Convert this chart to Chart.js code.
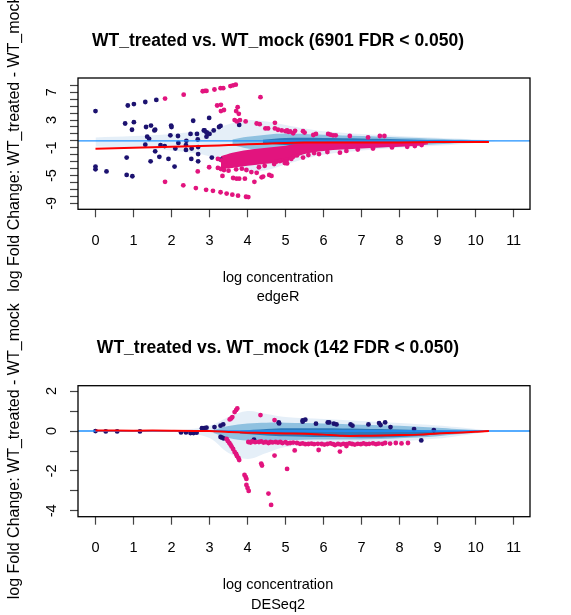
<!DOCTYPE html>
<html>
<head>
<meta charset="utf-8">
<script src="https://cdn.jsdelivr.net/npm/chart.js@4.4.1/dist/chart.umd.min.js"></script>
<style>
  html, body { margin: 0; padding: 0; background: #fff; }
  #wrap { position: relative; width: 571px; height: 615px; overflow: hidden; }
  canvas { position: absolute; left: 0; }
</style>
</head>
<body>
<div id="wrap">
  <canvas id="edgerChart" width="571" height="310" style="top:0"></canvas>
  <canvas id="deseqChart" width="571" height="320" style="top:295px"></canvas>
</div>
<script>
// ---- shared axis ----
const X_MIN = -0.46, X_MAX = 11.43;
const xTicksShown = [0, 1, 2, 3, 4, 5, 6, 7, 8, 9, 10, 11];

// ---- edgeR panel ----
const edgerTitle = 'WT_treated vs. WT_mock (6901 FDR < 0.050)';
const edgerYLabels = [7, 3, -1, -5, -9];
const edgerYTickTop = 8;
const edgerYMin = -9.86, edgerYMax = 9.06;

// outlier points drawn by smoothScatter (dark blue)
const edgerNavyX = [0, 0.85, 1.01, 1.31, 1.6, 0.78, 1.01, 0.96, 1.33, 1.46, 1.57, 1.55, 1.99, 2.0, 2.57, 2.5, 2.67, 2.85, 2.92,
  1.97, 2.17, 1.36, 1.41, 2.18, 2.39, 2.69, 2.92, 1.31, 1.71, 1.82, 2.1, 2.38, 2.38, 2.53, 2.7, 1.57,
  0.82, 1.45, 1.68, 1.92, 2.08, 2.52, 2.7, 2.7, 0, 0, 0.29, 0.82, 0.97,
  2.99, 2.87, 2.93, 3.0, 3.11, 3.25, 3.29, 3.78, 3.06, 3.29];
const edgerNavyY = [4.3, 5.1, 5.3, 5.6, 5.9, 2.5, 2.7, 1.6, 2.0, 2.2, 1.6, 1.5, 2.2, 2.0, 2.9, 1.0, 1.0, 1.5, 1.2,
  0.8, 0.7, 0.6, 0.3, -0.3, 0.0, 0.2, 0.6, -0.55, -0.6, -0.75, -1.1, -0.6, -1.3, -1.1, -0.9, -1.5,
  -2.4, -2.95, -2.3, -2.6, -3.7, -2.6, -1.9, -2.95, -3.7, -4.1, -4.4, -4.9, -5.1,
  3.3, 1.5, 1.2, 1.0, 1.5, 2.0, 2.15, 2.3, -2.4, -2.7];

// significant sites (pink), scattered ones
const edgerSigX = [1.83, 2.32, 2.82, 2.88, 2.92, 3.13, 3.29, 3.36, 3.55, 3.62, 3.69, 4.34,
  3.2, 3.3, 3.3, 3.38, 3.74, 3.7, 3.77, 3.66, 3.72, 3.8, 3.95, 4.24, 4.32, 4.47, 4.54, 4.72, 4.72, 4.8, 4.9, 5.0, 5.07,
  5.04, 5.12, 5.2, 5.25, 5.46, 5.5, 5.73, 5.8, 6.12, 6.18, 6.25, 6.32, 6.69, 7.17, 7.48, 7.6,
  2.69, 1.83, 2.31, 2.64, 2.91, 3.09, 3.29, 3.45, 3.6, 3.75, 3.96, 4.02,
  2.99, 3.22, 3.3, 3.38, 3.22, 3.32, 3.4, 3.34, 3.62, 3.71, 3.78, 3.93, 4.18, 4.37, 4.41, 4.57, 4.63,
  3.97, 4.1, 4.24, 4.76, 4.9, 5.03, 4.99, 4.98, 5.04, 5.2, 5.46, 5.88, 6.43, 8.58, 4.85,
  3.5, 3.7, 3.85, 4.3, 4.45, 4.7, 5.15, 5.3, 5.6, 5.75, 6.1, 6.6, 6.9, 7.3, 7.8, 8.2, 8.4];
const edgerSigY = [6.1, 6.65, 7.15, 7.2, 7.2, 7.4, 7.6, 7.6, 7.9, 8.0, 8.1, 6.3,
  5.1, 5.2, 4.3, 4.45, 4.85, 4.3, 3.9, 3.0, 2.8, 3.0, 2.8, 2.5, 2.4, 1.8, 1.8, 2.6, 1.8, 1.6, 1.5, 1.4, 1.3,
  1.5, 1.35, 1.1, 1.45, 1.4, 1.2, 0.85, 1.0, 1.0, 0.9, 0.8, 0.8, 0.7, 0.5, 0.7, 0.7,
  -4.4, -5.9, -6.4, -6.8, -7.05, -7.2, -7.4, -7.6, -7.75, -7.9, -8.05, -8.1,
  -3.8, -3.9, -4.05, -4.2, -2.6, -2.8, -3.0, -5.05, -5.35, -5.45, -5.45, -5.45, -5.9, -5.25, -5.15, -4.9, -5.05,
  -4.2, -4.5, -4.6, -3.0, -2.8, -2.75, -2.95, -3.2, -3.25, -2.3, -2.4, -1.9, -1.7, -0.6, -2.9,
  -4.3, -4.1, -4.0, -3.8, -3.6, -3.35, -2.6, -2.1, -2.05, -1.75, -1.6, -1.45, -1.25, -1.1, -0.95, -0.85, -0.75];

// dense cloud of significant sites (upper / lower edge)
const edgerMassX = [3.3, 3.6, 4, 4.5, 5, 5.5, 6, 6.5, 7, 7.5, 8, 8.5, 8.75];
const edgerMassHi = [-2.2, -1.7, -1.3, -1.0, -0.7, -0.25, -0.15, -0.12, -0.12, -0.12, -0.15, -0.22, -0.35];
const edgerMassLo = [-4.0, -3.9, -3.6, -3.3, -2.9, -1.9, -1.45, -1.25, -1.1, -0.95, -0.85, -0.7, -0.5];

// smoothScatter density levels
const edgerHazeX = [0, 1, 2, 3, 3.5, 4, 4.5, 5, 5.5, 6, 7, 8, 9, 10, 10.6];
const edgerHazeHi = [0.5, 0.7, 1.0, 1.6, 2.4, 3.0, 2.8, 2.3, 1.8, 1.4, 1.0, 0.7, 0.45, 0.2, 0];
const edgerHazeLo = [-0.8, -1.0, -1.4, -2.2, -3.4, -4.4, -4.2, -3.4, -2.6, -2.0, -1.4, -1.0, -0.7, -0.3, 0];
const edgerMidX = [3.6, 4, 4.5, 5, 5.5, 6, 7, 8, 9, 9.6, 10.4];
const edgerMidHi = [0.2, 0.6, 0.9, 1.05, 1.0, 0.9, 0.7, 0.5, 0.32, 0.18, 0];
const edgerMidLo = [-0.6, -1.1, -1.4, -1.5, -1.4, -1.2, -1.0, -0.8, -0.5, -0.3, 0];
const edgerCoreX = [4.4, 5, 6, 7, 8, 9, 9.8];
const edgerCoreHi = [0.15, 0.4, 0.42, 0.35, 0.25, 0.12, 0];
const edgerCoreLo = [-0.3, -0.6, -0.65, -0.55, -0.42, -0.28, 0];

// loess fit (red)
const edgerFitX = [0, 1, 2, 3, 3.5, 4, 4.5, 5, 5.5, 6, 7, 8, 9, 10, 10.35];
const edgerFitY = [-1.15, -1.0, -0.85, -0.7, -0.6, -0.5, -0.4, -0.3, -0.25, -0.25, -0.25, -0.22, -0.18, -0.15, -0.15];

// ---- DESeq2 panel ----
const deseqTitle = 'WT_treated vs. WT_mock (142 FDR < 0.050)';
const deseqYLabels = [2, 0, -2, -4];
const deseqYTickTop = 2;
const deseqYMin = -4.29, deseqYMax = 2.27;

const deseqNavyX = [0, 0.27, 0.57, 1.17, 2.25, 2.38, 2.5, 2.58, 2.66, 2.8, 2.86, 2.92, 3.13, 3.29, 3.36, 3.29, 3.33, 3.37,
  4.17, 4.82, 4.83, 5.45, 5.52, 5.45, 5.8, 6.11, 6.15, 6.27, 6.34, 6.71, 6.76, 7.18, 7.46, 7.5, 7.62, 7.76, 8.38, 8.57, 8.9];
const deseqNavyY = [0, -0.02, -0.02, -0.02, -0.07, -0.07, -0.1, -0.1, -0.08, 0.14, 0.15, 0.17, 0.2, 0.27, 0.33, -0.3, -0.33, -0.37,
  -0.43, 0.43, 0.38, 0.53, 0.57, 0.47, 0.37, 0.43, 0.43, 0.37, 0.33, 0.33, 0.27, 0.33, 0.4, 0.3, 0.43, 0.2, 0.1, -0.47, 0.05];

const deseqSigX = [3.53, 3.57, 3.6, 3.66, 3.7, 3.73, 4.34, 4.71,
  3.45, 3.48, 3.52, 3.55, 3.58, 3.62, 3.66, 3.7, 3.72, 3.76, 3.78,
  3.92, 3.95, 3.97, 3.97, 4.0, 4.03, 4.36, 4.38, 4.55, 4.62, 4.71, 5.04, 5.24, 5.87, 6.43, 6.6,
  4.02, 4.08, 4.12, 4.2, 4.3, 4.36, 4.42, 4.48, 4.55, 4.6, 4.66, 4.74, 4.8, 4.86, 4.92, 5.0, 5.05, 5.12, 5.2, 5.3,
  5.38, 5.45, 5.52, 5.6, 5.68, 5.75, 5.85, 5.95, 6.02, 6.1, 6.18, 6.25, 6.3, 6.38, 6.45, 6.52, 6.6, 6.68, 6.75,
  6.82, 6.9, 6.98, 7.05, 7.12, 7.2, 7.3, 7.38, 7.45, 7.55, 7.62, 7.75, 7.9, 8.05, 8.22];
const deseqSigY = [0.58, 0.63, 0.7, 0.95, 1.05, 1.13, 0.8, 0.55,
  -0.4, -0.5, -0.6, -0.68, -0.78, -0.9, -1.05, -1.15, -1.25, -1.35, -1.45,
  -2.2, -2.3, -2.4, -2.7, -2.85, -3.0, -1.63, -1.73, -3.13, -3.7, -1.23, -1.9, -0.97, -0.95, -1.03, -0.75,
  -0.55, -0.58, -0.52, -0.56, -0.55, -0.52, -0.58, -0.55, -0.6, -0.55, -0.57, -0.55, -0.58, -0.55, -0.6, -0.56, -0.62, -0.6, -0.58, -0.6,
  -0.64, -0.62, -0.66, -0.65, -0.63, -0.66, -0.64, -0.65, -0.68, -0.65, -0.62, -0.66, -0.7, -0.65, -0.68, -0.64, -0.66, -0.62, -0.65,
  -0.68, -0.64, -0.66, -0.62, -0.66, -0.64, -0.62, -0.66, -0.63, -0.64, -0.6, -0.63, -0.6, -0.62, -0.6];

const deseqHazeX = [2.3, 3, 3.5, 4, 4.5, 5, 6, 7, 8, 9, 9.5, 10, 10.4];
const deseqHazeHi = [0.05, 0.25, 0.7, 1.0, 0.85, 0.7, 0.6, 0.5, 0.4, 0.28, 0.2, 0.1, 0];
const deseqHazeLo = [-0.05, -0.35, -1.1, -1.4, -1.1, -0.8, -0.65, -0.6, -0.52, -0.38, -0.26, -0.12, 0];
const deseqMidX = [3.1, 3.5, 4, 4.5, 5, 6, 7, 8, 9, 9.5, 10, 10.35];
const deseqMidHi = [0.05, 0.25, 0.38, 0.42, 0.42, 0.38, 0.32, 0.26, 0.16, 0.1, 0.05, 0];
const deseqMidLo = [-0.1, -0.35, -0.48, -0.48, -0.45, -0.42, -0.42, -0.36, -0.26, -0.16, -0.08, 0];
const deseqCoreX = [3.8, 4.5, 5, 6, 7, 8, 9, 9.7];
const deseqCoreHi = [0.02, 0.1, 0.14, 0.14, 0.12, 0.08, 0.03, 0];
const deseqCoreLo = [-0.12, -0.22, -0.26, -0.3, -0.32, -0.3, -0.16, 0];

const deseqFitX = [0, 1, 2, 3, 3.5, 4, 4.5, 5, 5.5, 6, 6.5, 7, 7.5, 8, 8.5, 9, 9.5, 10, 10.35];
const deseqFitY = [0.03, 0.02, 0.02, 0.0, -0.05, -0.08, -0.1, -0.12, -0.13, -0.18, -0.24, -0.24, -0.22, -0.2, -0.18, -0.12, -0.08, -0.04, 0];

const yAxisTitle = 'log Fold Change: WT_treated - WT_mock';
const xAxisTitle = 'log concentration';

// ---- drawing ----
const FONT = '"Liberation Sans", Arial, Helvetica, sans-serif';
Chart.defaults.font.family = FONT;
Chart.defaults.color = '#000';

const PINK = '#e2147e';
const NAVY = '#1c1270';

function xy(xs, ys) {
  return xs.map((x, i) => ({ x: x, y: ys[i] }));
}

function band(xs, hi, lo, color, order) {
  return [
    { data: xy(xs, hi), fill: '+1', backgroundColor: color, borderColor: 'transparent', borderWidth: 0, pointRadius: 0, tension: 0.35, order: order },
    { data: xy(xs, lo), fill: false, borderColor: 'transparent', borderWidth: 0, pointRadius: 0, tension: 0.35, order: order }
  ];
}

function dots(xs, ys, color, order) {
  return { data: xy(xs, ys), showLine: false, pointRadius: 2.4, pointBackgroundColor: color, pointBorderWidth: 0, order: order };
}

function curve(xs, ys, color, width, order) {
  return { data: xy(xs, ys), borderColor: color, borderWidth: width, pointRadius: 0, fill: false, tension: 0.3, order: order };
}

// box, titles and axis labels in R base-graphics style
const rText = {
  id: 'rText',
  afterDraw(chart, args, o) {
    const { ctx, chartArea: a } = chart;
    ctx.save();
    ctx.strokeStyle = '#000';
    ctx.lineWidth = 1.3;
    ctx.strokeRect(a.left, a.top, a.right - a.left, a.bottom - a.top);
    ctx.fillStyle = '#000';
    ctx.textAlign = 'center';
    ctx.textBaseline = 'alphabetic';
    ctx.font = 'bold 17.5px ' + FONT;
    ctx.fillText(o.title, 278, a.top - 32.5);
    ctx.font = '14.5px ' + FONT;
    ctx.textBaseline = 'middle';
    ctx.fillText(xAxisTitle, 278, a.bottom + 68.5);
    ctx.fillText(o.method, 278, a.bottom + 88);
    ctx.translate(18.5, (a.top + a.bottom) / 2);
    ctx.rotate(-Math.PI / 2);
    ctx.font = '16px ' + FONT;
    ctx.textBaseline = 'alphabetic';
    ctx.fillText(yAxisTitle, 0, 0);
    ctx.restore();
  }
};

function makeChart(id, p) {
  const datasets = [
    curve([X_MIN, X_MAX], [0, 0], '#1e90ff', 1.4, 1),
    curve(p.fitX, p.fitY, '#ff0000', 2, 0),
    dots(p.sigX, p.sigY, PINK, 2),
    dots(p.navyX, p.navyY, NAVY, 2)
  ];
  if (p.mass) datasets.push(...band(p.mass[0], p.mass[1], p.mass[2], PINK, 3));
  datasets.push(...band(p.core[0], p.core[1], p.core[2], 'rgba(33,113,181,0.9)', 4));
  datasets.push(...band(p.mid[0], p.mid[1], p.mid[2], 'rgba(107,174,214,0.7)', 5));
  datasets.push(...band(p.haze[0], p.haze[1], p.haze[2], 'rgba(198,219,239,0.45)', 6));

  return new Chart(document.getElementById(id), {
    type: 'line',
    data: { datasets: datasets },
    options: {
      responsive: false,
      animation: false,
      devicePixelRatio: 1,
      events: [],
      layout: { padding: { top: p.top, right: 41, left: 0, bottom: 0 } },
      plugins: {
        legend: { display: false },
        tooltip: { enabled: false },
        rText: { title: p.title, method: p.method }
      },
      scales: {
        x: {
          type: 'linear', min: X_MIN, max: X_MAX,
          afterFit: s => { s.height = p.xAxisH; },
          grid: { drawOnChartArea: false, tickLength: 8, tickColor: '#444', tickWidth: 1.2 },
          border: { display: false },
          ticks: {
            stepSize: 1, includeBounds: false, autoSkip: false, maxRotation: 0, padding: 15,
            font: { size: 14.5 }, color: '#000',
            callback: v => xTicksShown.includes(v) ? String(v) : ''
          }
        },
        y: {
          type: 'linear', min: p.yMin, max: p.yMax,
          afterFit: s => { s.width = 78; },
          afterBuildTicks: s => { s.ticks = s.ticks.filter(t => t.value <= p.yTickTop); },
          grid: { drawOnChartArea: false, tickLength: 8, tickColor: '#444', tickWidth: 1.2 },
          border: { display: false },
          ticks: {
            stepSize: 1, includeBounds: false, autoSkip: false, minRotation: 90, maxRotation: 90,
            crossAlign: 'center', padding: 11.5, font: { size: 14.5 }, color: '#000',
            callback: v => p.yLabels.includes(v) ? String(v) : ''
          }
        }
      }
    },
    plugins: [rText]
  });
}

makeChart('edgerChart', {
  title: edgerTitle, method: 'edgeR', top: 78, xAxisH: 100.7,
  yMin: edgerYMin, yMax: edgerYMax, yLabels: edgerYLabels, yTickTop: edgerYTickTop,
  navyX: edgerNavyX, navyY: edgerNavyY, sigX: edgerSigX, sigY: edgerSigY,
  fitX: edgerFitX, fitY: edgerFitY,
  mass: [edgerMassX, edgerMassHi, edgerMassLo],
  core: [edgerCoreX, edgerCoreHi, edgerCoreLo],
  mid: [edgerMidX, edgerMidHi, edgerMidLo],
  haze: [edgerHazeX, edgerHazeHi, edgerHazeLo]
});

makeChart('deseqChart', {
  title: deseqTitle, method: 'DESeq2', top: 90.7, xAxisH: 98.3,
  yMin: deseqYMin, yMax: deseqYMax, yLabels: deseqYLabels, yTickTop: deseqYTickTop,
  navyX: deseqNavyX, navyY: deseqNavyY, sigX: deseqSigX, sigY: deseqSigY,
  fitX: deseqFitX, fitY: deseqFitY,
  mass: null,
  core: [deseqCoreX, deseqCoreHi, deseqCoreLo],
  mid: [deseqMidX, deseqMidHi, deseqMidLo],
  haze: [deseqHazeX, deseqHazeHi, deseqHazeLo]
});
</script>
</body>
</html>
